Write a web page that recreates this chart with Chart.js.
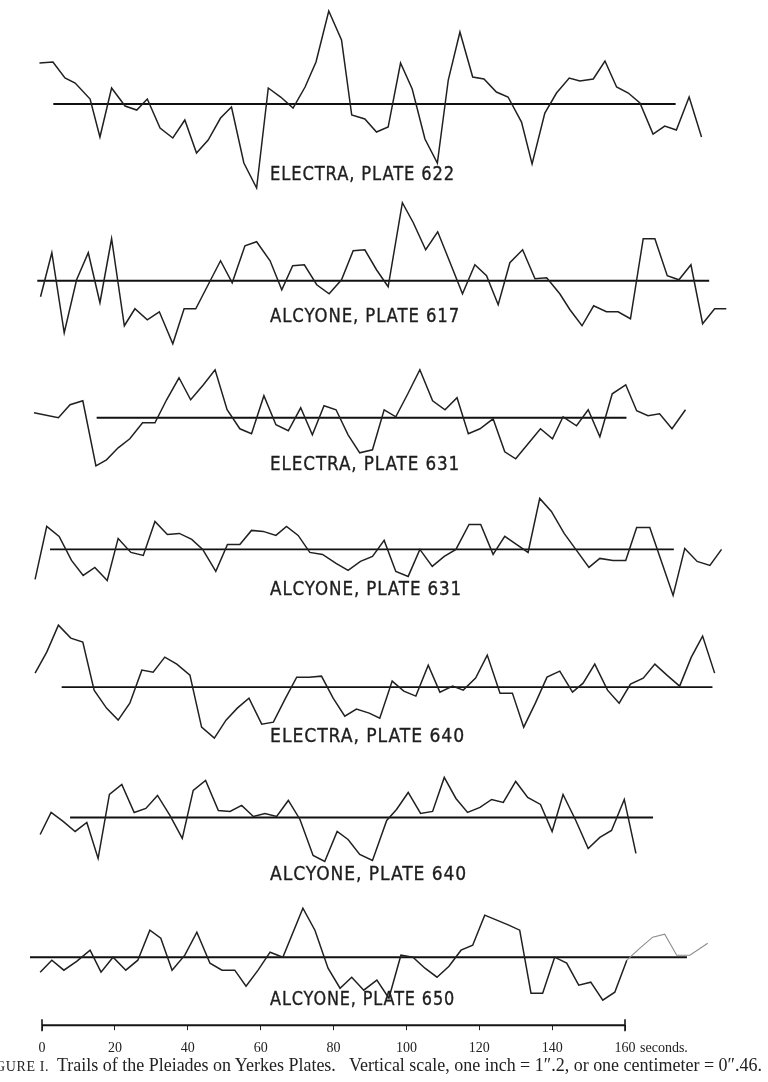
<!DOCTYPE html>
<html>
<head>
<meta charset="utf-8">
<script src="https://cdn.jsdelivr.net/npm/chart.js@4"></script>
<style>
  html, body { margin: 0; padding: 0; background: #fff; overflow: hidden; }
  #wrap { position: relative; width: 768px; height: 1082px; overflow: hidden; }
  #plot { position: absolute; left: 0; top: 0; }
  .cap { position: absolute; white-space: nowrap; color: #222; line-height: 1;
         font-family: "Liberation Serif", "DejaVu Serif", serif; font-size: 14px; }
  .sc { font-size: 0.78em; letter-spacing: 0.6px; }
</style>
</head>
<body>
<div id="wrap">
  <canvas id="plot" width="768" height="1082"></canvas>
  <div class="cap" id="capA"><span class="sc">FIGURE I.</span></div>
  <div class="cap" id="capB">Trails of the Pleiades on Yerkes Plates.&nbsp;&nbsp; Vertical scale, one inch = 1″.2, or one centimeter = 0″.46.</div>
</div>
<script>
// Trail vertices: time along the trail (seconds) and deflection from the mean line.
const electra622Time = [-0.7,3.0,6.3,9.1,13.2,15.9,19.1,22.8,26.0,28.9,32.4,35.9,39.2,42.4,45.6,49.0,52.0,55.4,58.9,62.1,65.5,68.9,72.2,75.2,78.7,82.2,85.0,88.6,91.8,95.0,98.4,101.6,105.1,108.5,111.5,114.7,118.2,121.3,124.7,127.9,131.6,134.5,138.0,141.2,144.7,147.6,151.3,154.5,157.7,160.9,164.1,167.7,170.9,174.1,177.6,181.0];
const electra622Dev = [41,42,26,21,5,-33,16,-2,-6,5,-24,-34,-16,-49,-36,-14,-3,-59,-84,16,7,-4,17,42,93,64,-11,-15,-28,-23,41,15,-35,-59,24,72,27,25,12,7,-18,-60,-9,11,26,23,25,43,17,11,1,-30,-22,-26,7,-33];
const electra622Base = [3.1, 173.9];

const alcyone617Time = [-0.4,2.7,6.1,9.5,12.7,15.9,19.1,22.6,25.5,28.9,32.2,35.9,39.0,42.2,45.6,49.0,52.2,55.7,58.9,62.6,65.8,68.8,72.0,75.4,78.8,82.2,85.4,88.6,91.8,95.0,98.9,101.9,105.3,108.6,111.9,115.4,118.8,122.0,125.2,128.4,131.9,135.3,138.5,142.1,144.9,148.2,151.4,154.9,158.1,161.5,165.0,168.2,171.6,174.8,178.1,181.3,184.6,187.8];
const alcyone617Dev = [-16,28,-52,1,28,-22,42,-45,-28,-39,-31,-63,-28,-28,-4,20,-2,35,39,20,-9,15,16,-4,-13,1,30,31,11,-6,78,58,31,49,19,-13,16,5,-24,18,31,2,3,-13,-29,-45,-25,-31,-31,-38,42,42,5,1,16,-43,-28,-28];
const alcyone617Base = [-1.3, 183.1];

const electra631Time = [-2.2,4.5,7.7,11.2,14.8,17.7,20.9,24.1,27.6,31.0,34.2,37.6,40.8,44.3,47.5,50.8,54.3,57.5,60.9,64.2,67.6,71.0,74.2,77.4,80.7,84.0,87.2,90.7,93.9,97.1,100.4,103.7,107.2,110.6,113.9,117.0,120.2,123.8,127.0,130.0,133.4,136.8,140.1,143.0,146.7,149.9,153.1,156.5,160.2,163.2,166.3,169.5,172.9,176.6];
const electra631Dev = [5,0,13,17,-48,-42,-30,-21,-5,-5,18,40,18,33,48,8,-11,-16,22,-7,-13,10,-17,12,8,-17,-35,-32,8,1,24,48,17,8,20,-16,-11,-1,-34,-41,-26,-11,-21,1,-8,8,-19,24,33,7,2,4,-11,8];
const electra631Base = [15.0, 160.4];

const alcyone631Time = [-1.9,1.3,4.7,8.1,11.3,14.5,17.9,20.9,24.4,27.8,31.0,34.4,37.7,41.1,44.1,47.7,50.9,54.3,57.5,60.7,64.2,67.1,70.3,73.5,77.0,80.7,84.0,87.4,90.7,93.9,97.1,100.5,103.7,107.1,110.4,113.6,117.2,120.4,123.8,127.0,130.2,133.4,136.6,139.8,143.3,146.7,150.1,153.1,156.7,160.2,163.2,166.8,170.0,173.2,176.4,179.8,183.3,186.5];
const alcyone631Dev = [-30,23,13,-11,-26,-18,-31,11,-3,-6,28,15,16,10,0,-22,5,5,19,18,14,23,14,-3,-5,-14,-21,-12,-7,9,-22,-27,0,-17,-7,0,25,25,-5,13,5,-3,51,38,16,-1,-18,-9,-11,-11,22,22,-12,-46,1,-12,-16,0];
const alcyone631Base = [2.2, 173.4];

const electra640Time = [-1.9,1.3,4.5,7.9,11.2,14.3,17.7,20.9,24.1,27.4,30.5,33.7,37.0,40.6,43.8,47.3,50.5,53.6,56.8,60.3,63.5,66.7,69.9,73.3,76.7,79.9,83.1,86.3,89.8,92.7,96.1,99.3,102.6,106.0,109.2,112.7,115.6,119.0,122.2,125.7,129.1,132.2,135.4,138.6,142.1,145.6,148.5,151.7,155.2,158.4,161.5,165.0,168.2,171.5,175.0,178.2,181.3,184.6];
const electra640Dev = [14,35,62,49,45,-3,-21,-33,-16,17,15,30,23,12,-40,-51,-33,-21,-11,-37,-35,-12,10,10,11,-11,-29,-22,-26,-31,6,-4,-9,22,-5,1,-3,9,32,-6,-6,-40,-16,10,16,-5,4,23,-3,-16,3,9,23,12,1,30,51,14];
const electra640Base = [5.4, 184.0];

const alcyone640Time = [-0.5,2.5,5.8,9.1,12.3,15.4,18.5,21.9,25.3,28.5,31.7,35.1,38.5,41.5,44.9,48.4,51.6,54.8,58.0,61.2,64.4,67.6,70.8,74.4,77.6,81.0,84.0,87.2,90.7,94.6,97.3,100.5,103.9,107.2,110.4,113.6,116.8,120.2,123.4,126.6,130.0,133.3,136.8,140.0,143.0,146.5,149.9,153.1,156.3,159.8,163.0];
const alcyone640Dev = [-17,5,-4,-14,-5,-41,23,33,5,9,22,2,-21,27,37,7,6,12,1,4,1,17,-2,-38,-44,-14,-22,-37,-43,-3,8,25,4,6,40,19,5,10,18,15,36,20,13,-14,23,-3,-31,-20,-13,18,-36];
const alcyone640Base = [7.7, 167.7];

const alcyone650Time = [-0.5,2.7,6.0,9.6,13.2,16.2,19.5,23.0,26.3,29.6,32.6,35.7,39.2,42.5,46.1,49.4,52.9,56.0,59.3,62.6,66.1,71.6,74.9,78.5,81.8,85.0,88.3,91.9,95.2,98.5,101.8,105.1,108.4,111.7,115.0,118.2,121.5,124.8,128.1,131.1,134.2,137.4,140.7,144.0,147.3,150.6,153.9,157.2,160.5,164.1,167.6,170.9,174.2,177.8,182.7];
const alcyone650Dev = [-15,-3,-13,-4,7,-15,0,-13,-3,27,19,-13,2,25,-6,-13,-13,-29,-13,5,0,49,27,-11,-31,-20,-33,-23,-41,2,0,-11,-20,-9,7,12,42,37,32,27,-36,-36,0,-6,-28,-25,-43,-35,-3,9,20,23,2,2,14];
const alcyone650Base = [-3.3, 177.0];

const trailNames = ['ELECTRA, PLATE 622', 'ALCYONE, PLATE 617', 'ELECTRA, PLATE 631',
                    'ALCYONE, PLATE 631', 'ELECTRA, PLATE 640', 'ALCYONE, PLATE 640',
                    'ALCYONE, PLATE 650'];
const timeTicks = [0, 20, 40, 60, 80, 100, 120, 140, 160];

const trails = [
  [electra622Time, electra622Dev, electra622Base],
  [alcyone617Time, alcyone617Dev, alcyone617Base],
  [electra631Time, electra631Dev, electra631Base],
  [alcyone631Time, alcyone631Dev, alcyone631Base],
  [electra640Time, electra640Dev, electra640Base],
  [alcyone640Time, alcyone640Dev, alcyone640Base],
  [alcyone650Time, alcyone650Dev, alcyone650Base]
];

// Layout: the time scale runs a little past both ends of the drawn axis
// so trails that start early or run long are not cut off.
const T_MIN = -4, T_MAX = 192;
const PX_PER_SEC = 583 / 160;
const AXIS_LEFT = 42;
const PLOT_BOTTOM = 1025;
const rowZero = [104, 280.7, 417.7, 549.3, 687, 817.3, 957];
const nameDrop = [71.5, 36.8, 47.3, 40.7, 50, 57.7, 43];
const nameWidth = [185, 190, 190, 192, 195, 197, 185];
const NAME_LEFT_SEC = 62.6;
const FAINT_FROM_SEC = 160;   // the last plate's trace is paler past the axis end

const padLeft = AXIS_LEFT + T_MIN * PX_PER_SEC;
const padRight = 768 - (AXIS_LEFT + T_MAX * PX_PER_SEC);
const tickFont = { family: '"Liberation Serif", "DejaVu Serif", serif', size: 14 };

const datasets = [];
const scales = {
  x: {
    type: 'linear', min: T_MIN, max: T_MAX, position: 'bottom',
    afterBuildTicks: s => { s.ticks = timeTicks.map(v => ({ value: v })); },
    ticks: { color: '#222', padding: 10, maxRotation: 0, autoSkip: false, font: tickFont },
    grid: { drawOnChartArea: false, drawTicks: true, tickLength: 5, color: '#222', lineWidth: 1 },
    border: { display: false }
  }
};

trails.forEach(([t, d, base], i) => {
  const id = 'y' + i;
  const last = i === trails.length - 1;
  scales[id] = {
    type: 'linear', display: false,
    min: rowZero[i] - PLOT_BOTTOM, max: rowZero[i]
  };
  datasets.push({
    label: trailNames[i],
    data: t.map((v, k) => ({ x: v, y: d[k] })),
    yAxisID: id, borderColor: '#202020', borderWidth: 1.5,
    pointRadius: 0, tension: 0, clip: false,
    segment: last ? {
      borderColor: c => c.p0.parsed.x >= FAINT_FROM_SEC ? '#8c8c8c' : undefined,
      borderWidth: c => c.p0.parsed.x >= FAINT_FROM_SEC ? 1.1 : undefined
    } : undefined
  });
  datasets.push({
    label: trailNames[i] + ' mean',
    data: [{ x: base[0], y: 0 }, { x: base[1], y: 0 }],
    yAxisID: id, borderColor: '#111', borderWidth: 1.9,
    pointRadius: 0, clip: false
  });
});

const namesAndAxis = {
  id: 'namesAndAxis',
  afterDraw(chart) {
    const ctx = chart.ctx;
    const xs = chart.scales.x;
    ctx.save();
    // trail names
    ctx.fillStyle = '#1e1e1e';
    ctx.strokeStyle = '#1e1e1e';
    ctx.lineWidth = 0.35;
    ctx.font = '19px "DejaVu Sans"';
    ctx.letterSpacing = '1px';
    ctx.textBaseline = 'middle';
    ctx.textAlign = 'left';
    trailNames.forEach((name, i) => {
      const cy = chart.scales['y' + i].getPixelForValue(0) + nameDrop[i];
      const left = xs.getPixelForValue(NAME_LEFT_SEC);
      const w = ctx.measureText(name).width;
      ctx.save();
      ctx.translate(left, cy);
      ctx.scale(nameWidth[i] / w, 1);
      ctx.fillText(name, 0, 0);
      ctx.strokeText(name, 0, 0);
      ctx.restore();
    });
    ctx.letterSpacing = '0px';
    // time axis line from 0 to 160 s with end bars
    const y = xs.top;
    const x0 = xs.getPixelForValue(0), x1 = xs.getPixelForValue(160);
    ctx.strokeStyle = '#151515';
    ctx.lineWidth = 2;
    ctx.beginPath();
    ctx.moveTo(x0, y);
    ctx.lineTo(x1, y);
    ctx.stroke();
    ctx.lineWidth = 1.6;
    [x0, x1].forEach(px => {
      ctx.beginPath();
      ctx.moveTo(px, y - 6);
      ctx.lineTo(px, y + 6);
      ctx.stroke();
    });
    // unit after the last tick label
    ctx.fillStyle = '#222';
    ctx.font = tickFont.size + 'px ' + tickFont.family;
    ctx.textBaseline = 'middle';
    ctx.fillText('seconds.', x1 + 15, y + 5 + 10 + tickFont.size * 0.6);
    ctx.restore();
  }
};

new Chart(document.getElementById('plot'), {
  type: 'line',
  data: { datasets },
  options: {
    responsive: false, animation: false, events: [],
    layout: { padding: { left: padLeft, right: padRight, top: 0, bottom: 15 } },
    plugins: { legend: { display: false }, tooltip: { enabled: false } },
    scales
  },
  plugins: [namesAndAxis]
});

// caption: size the sentence line to run from its left margin to the right edge
const capA = document.getElementById('capA');
const capB = document.getElementById('capB');
const natural = capB.getBoundingClientRect().width;
const size = 14 * (762 - 57) / natural;
capB.style.fontSize = size + 'px';
capB.style.left = '57px';
capB.style.top = (1066 - size / 2) + 'px';
capA.style.fontSize = size + 'px';
capA.style.top = (1066 - size / 2) + 'px';
capA.style.left = (49 - capA.getBoundingClientRect().width) + 'px';
</script>
</body>
</html>
